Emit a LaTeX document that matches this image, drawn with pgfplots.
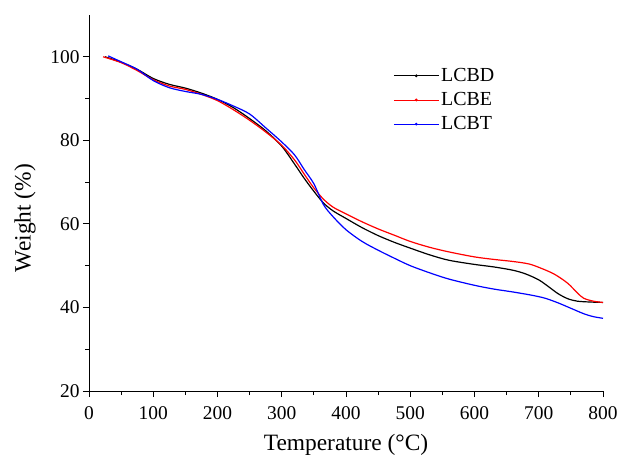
\documentclass[border=0pt]{standalone}
\usepackage{pgfplots}
\pgfplotsset{compat=1.18}
\usepackage{fontspec}
\setmainfont{Liberation Serif}
\pgfplotstableread{
x y
25 100
50 98.7
75 97
100 94.8
125 93.4
150 92.5
175 91.3
200 89.8
225 87.8
250 85.2
275 82.3
300 78.6
320 74.3
335 70.9
350 67.8
365 65.0
380 63.1
400 61.3
425 59.1
450 57.2
475 55.6
500 54.2
530 52.6
560 51.3
600 50.3
630 49.7
660 48.9
680 48
700 46.6
715 45
730 43.3
745 42.1
760 41.5
780 41.3
800 41.2
}\lcbd
\pgfplotstableread{
x y
22 100
50 98.6
75 96.7
100 94.5
125 93
150 92.2
175 91
200 89.5
225 87.3
250 84.8
275 82
300 78.8
320 75.3
335 71.9
350 68.6
365 65.9
380 64.0
400 62.4
425 60.5
450 58.8
475 57.3
500 55.8
530 54.4
560 53.3
600 52.1
630 51.5
660 51
685 50.4
705 49.3
725 47.9
745 45.8
760 43.5
770 42.2
785 41.5
800 41.2
}\lcbe
\pgfplotstableread{
x y
30 100.2
50 98.8
75 97
100 94.3
125 92.6
150 91.7
175 91
200 89.8
225 88.2
250 86.3
275 83
300 79.6
320 76.5
335 73.0
350 69.6
365 64.6
380 61.7
400 58.6
425 55.8
450 53.7
475 51.8
500 50
530 48.3
560 46.8
600 45.3
630 44.4
660 43.7
690 42.9
710 42.2
730 41.1
750 39.8
770 38.5
785 37.8
800 37.4
}\lcbt
\begin{document}
\begin{tikzpicture}
\begin{axis}[
  scale only axis,
  width=514bp, height=376bp,
  xmin=0, xmax=800, ymin=20, ymax=110,
  axis x line*=bottom, axis y line*=left,
  axis line style={line width=1bp},
  xtick={0,100,...,800}, ytick={20,40,...,100},
  minor x tick num=1, minor y tick num=1,
  tick align=outside,
  major tick length=6bp, minor tick length=4bp,
  tick style={black, line width=1bp},
  /pgf/number format/assume math mode=true,
  ticklabel style={font=\fontsize{19.5}{22}\selectfont},
  xticklabel style={yshift=-6bp},
  xlabel={Temperature (°C)}, ylabel={Weight (\%)},
  label style={font=\fontsize{23.5}{26}\selectfont},
  xlabel style={at={(rel axis cs:0.5,0)}, anchor=center, yshift=-54bp},
  ylabel style={at={(rel axis cs:-0.1245,0.46)}, anchor=center},
  legend cell align=left,
  legend style={draw=none, fill=none, at={(rel axis cs:0.586,0.869)}, anchor=north west,
    font=\fontsize{20}{24}\selectfont, row sep=5.5bp},
  legend image code/.code={\draw[#1, line width=0.8bp] (0bp,0bp) -- (45bp,0bp); \fill[#1] (22.5bp,0bp) circle (0.7bp);},
  every axis plot/.append style={line width=1.2bp, smooth},
]
\addplot[black] table[x=x,y=y]{\lcbd};
\addlegendentry{LCBD}
\addplot[red] table[x=x,y=y]{\lcbe};
\addlegendentry{LCBE}
\addplot[blue] table[x=x,y=y]{\lcbt};
\addlegendentry{LCBT}
\coordinate (bl) at (rel axis cs:0,0);
\coordinate (tr) at (rel axis cs:1,1);
\end{axis}
\pgfresetboundingbox
\path ([shift={(-89bp,-70bp)}]bl) rectangle ([shift={(16bp,15bp)}]tr);
\end{tikzpicture}
\end{document}
